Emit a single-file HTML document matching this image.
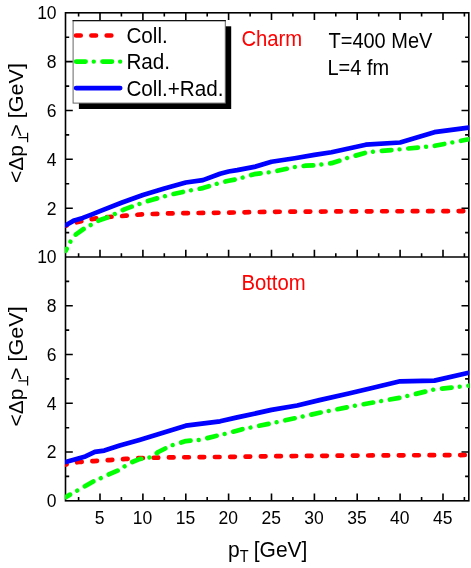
<!DOCTYPE html>
<html><head><meta charset="utf-8"><title>chart</title>
<style>html,body{margin:0;padding:0;background:#fff}svg{display:block;will-change:transform;opacity:.999}text{font-family:"Liberation Sans",sans-serif;fill:#000}</style></head><body>
<svg width="471" height="568" viewBox="0 0 471 568">
<rect width="471" height="568" fill="#fff"/>
<defs><clipPath id="cu"><rect x="65.0" y="12.8" width="404.3" height="244.2"/></clipPath><clipPath id="cl"><rect x="65.0" y="257.0" width="404.3" height="243.8"/></clipPath></defs>
<g stroke="#000" stroke-width="1.6" fill="none" stroke-linecap="butt">
<rect x="65.5" y="12.8" width="403.3" height="488.0"/>
<line x1="65.5" y1="257.0" x2="468.8" y2="257.0"/>
<path d="M78.6 12.8v3.7M78.6 257.0v-3.7M78.6 500.8v-3.7M100.0 12.8v7.3M100.0 257.0v-7.3M100.0 500.8v-7.3M121.4 12.8v3.7M121.4 257.0v-3.7M121.4 500.8v-3.7M142.9 12.8v7.3M142.9 257.0v-7.3M142.9 500.8v-7.3M164.3 12.8v3.7M164.3 257.0v-3.7M164.3 500.8v-3.7M185.8 12.8v7.3M185.8 257.0v-7.3M185.8 500.8v-7.3M207.2 12.8v3.7M207.2 257.0v-3.7M207.2 500.8v-3.7M228.6 12.8v7.3M228.6 257.0v-7.3M228.6 500.8v-7.3M250.1 12.8v3.7M250.1 257.0v-3.7M250.1 500.8v-3.7M271.5 12.8v7.3M271.5 257.0v-7.3M271.5 500.8v-7.3M292.9 12.8v3.7M292.9 257.0v-3.7M292.9 500.8v-3.7M314.4 12.8v7.3M314.4 257.0v-7.3M314.4 500.8v-7.3M335.8 12.8v3.7M335.8 257.0v-3.7M335.8 500.8v-3.7M357.2 12.8v7.3M357.2 257.0v-7.3M357.2 500.8v-7.3M378.7 12.8v3.7M378.7 257.0v-3.7M378.7 500.8v-3.7M400.1 12.8v7.3M400.1 257.0v-7.3M400.1 500.8v-7.3M421.6 12.8v3.7M421.6 257.0v-3.7M421.6 500.8v-3.7M443.0 12.8v7.3M443.0 257.0v-7.3M443.0 500.8v-7.3M464.4 12.8v3.7M464.4 257.0v-3.7M464.4 500.8v-3.7M65.5 232.6h3.7M468.8 232.6h-3.7M65.5 476.4h3.7M468.8 476.4h-3.7M65.5 208.2h7.3M468.8 208.2h-7.3M65.5 452.0h7.3M468.8 452.0h-7.3M65.5 183.7h3.7M468.8 183.7h-3.7M65.5 427.7h3.7M468.8 427.7h-3.7M65.5 159.3h7.3M468.8 159.3h-7.3M65.5 403.3h7.3M468.8 403.3h-7.3M65.5 134.9h3.7M468.8 134.9h-3.7M65.5 378.9h3.7M468.8 378.9h-3.7M65.5 110.5h7.3M468.8 110.5h-7.3M65.5 354.5h7.3M468.8 354.5h-7.3M65.5 86.1h3.7M468.8 86.1h-3.7M65.5 330.1h3.7M468.8 330.1h-3.7M65.5 61.6h7.3M468.8 61.6h-7.3M65.5 305.8h7.3M468.8 305.8h-7.3M65.5 37.2h3.7M468.8 37.2h-3.7M65.5 281.4h3.7M468.8 281.4h-3.7"/>
</g>
<g fill="none" stroke-width="4.7" stroke-linecap="round" stroke-linejoin="round">
<g clip-path="url(#cu)">
<path d="M65.7 225.7 L74.3 222.8 L82.8 220.9 L91.4 219.1 L100.0 217.9 L108.6 217.0 L125.7 215.7 L142.9 214.3 L172.9 213.3 L228.6 212.6 L271.5 211.8 L365.8 211.3 L468.7 211.1" stroke="#ff0000" stroke-dasharray="4.6 10.7" stroke-dashoffset="3.7"/>
<path d="M65.7 250.7 L70.8 240.9 L76.0 234.3 L85.4 227.7 L92.3 224.3 L100.0 219.9 L111.1 216.2 L117.2 212.6 L124.9 209.1 L134.7 205.5 L151.4 199.9 L172.5 194.2 L185.8 191.3 L202.9 188.1 L220.1 182.8 L228.6 180.8 L237.2 179.1 L254.3 174.2 L271.5 172.0 L294.7 167.1 L305.8 165.7 L314.4 165.4 L331.5 163.2 L348.7 157.6 L365.8 152.7 L374.4 151.5 L400.1 149.3 L419.8 147.4 L434.4 145.9 L468.7 139.3" stroke="#00ff00" stroke-dasharray="9.60 17.06" stroke-dashoffset="7.60"/><path d="M65.7 250.7 L70.8 240.9 L76.0 234.3 L85.4 227.7 L92.3 224.3 L100.0 219.9 L111.1 216.2 L117.2 212.6 L124.9 209.1 L134.7 205.5 L151.4 199.9 L172.5 194.2 L185.8 191.3 L202.9 188.1 L220.1 182.8 L228.6 180.8 L237.2 179.1 L254.3 174.2 L271.5 172.0 L294.7 167.1 L305.8 165.7 L314.4 165.4 L331.5 163.2 L348.7 157.6 L365.8 152.7 L374.4 151.5 L400.1 149.3 L419.8 147.4 L434.4 145.9 L468.7 139.3" stroke="#00ff00" stroke-dasharray="0.01 26.65" stroke-dashoffset="16.46" stroke-width="4.4"/>
<path d="M65.7 225.3 L74.3 220.4 L82.8 217.9 L91.4 214.6 L100.0 211.1 L121.4 202.8 L142.9 195.0 L164.3 188.4 L185.8 182.5 L202.9 180.1 L220.1 173.7 L228.6 171.5 L237.2 170.1 L254.3 166.9 L271.5 161.8 L294.7 158.3 L314.4 154.9 L331.5 152.2 L365.8 144.7 L400.1 142.5 L434.4 132.2 L468.7 127.6" stroke="#0000ff"/>
</g><g clip-path="url(#cl)">
<path d="M65.7 464.5 L78.6 462.0 L94.0 461.1 L109.4 460.1 L125.7 458.9 L138.6 458.1 L168.6 457.4 L228.6 456.9 L271.5 456.2 L365.8 455.5 L468.7 455.0" stroke="#ff0000" stroke-dasharray="4.6 10.73" stroke-dashoffset="3.7"/>
<path d="M65.7 497.1 L76.8 490.8 L84.6 486.4 L94.0 481.1 L101.3 477.9 L109.4 474.2 L118.9 470.1 L124.9 466.2 L132.2 462.0 L139.4 459.1 L151.4 457.2 L158.3 452.0 L171.2 445.5 L185.8 441.1 L200.3 439.9 L214.9 436.2 L226.6 433.5 L241.5 429.4 L271.5 423.3 L296.4 417.9 L319.5 412.8 L355.2 405.7 L400.1 397.7 L434.4 389.4 L468.7 385.7" stroke="#00ff00" stroke-dasharray="9.60 17.06" stroke-dashoffset="4.60"/><path d="M65.7 497.1 L76.8 490.8 L84.6 486.4 L94.0 481.1 L101.3 477.9 L109.4 474.2 L118.9 470.1 L124.9 466.2 L132.2 462.0 L139.4 459.1 L151.4 457.2 L158.3 452.0 L171.2 445.5 L185.8 441.1 L200.3 439.9 L214.9 436.2 L226.6 433.5 L241.5 429.4 L271.5 423.3 L296.4 417.9 L319.5 412.8 L355.2 405.7 L400.1 397.7 L434.4 389.4 L468.7 385.7" stroke="#00ff00" stroke-dasharray="0.01 26.65" stroke-dashoffset="13.46" stroke-width="4.4"/>
<path d="M65.7 462.0 L85.4 456.4 L94.9 451.8 L104.3 450.6 L119.7 445.5 L139.4 439.9 L185.8 425.7 L220.1 421.3 L237.2 417.4 L271.5 409.9 L297.2 405.5 L319.5 400.1 L348.7 393.5 L371.0 388.2 L400.1 381.3 L434.4 380.6 L468.7 372.8" stroke="#0000ff"/>
</g></g>
<rect x="78.9" y="26.3" width="152.3" height="82.7" fill="#000"/>
<rect x="73.1" y="20.6" width="152.2" height="82.5" fill="#fff" stroke="#666" stroke-width="1"/>
<path d="M72.6 20.6H225.8" stroke="#111" stroke-width="1.1" fill="none"/>
<g fill="none" stroke-width="4.7" stroke-linecap="round">
<path d="M76.1 35.5H120.2" stroke="#ff0000" stroke-dasharray="4.6 10.7"/>
<path d="M76.1 61.6H120.6" stroke="#00ff00" stroke-dasharray="9.50 16.91" stroke-dashoffset="0.00"/><path d="M76.1 61.6H120.6" stroke="#00ff00" stroke-dasharray="0.01 26.40" stroke-dashoffset="8.76" stroke-width="4.4"/>
<path d="M76.1 88.1H120.2" stroke="#0000ff"/>
</g>
<text transform="translate(126.4 42.9) scale(1 1.090)" font-size="20.7">Coll.</text>
<text transform="translate(126.4 69.3) scale(1 1.090)" font-size="20.7">Rad.</text>
<text transform="translate(126.4 95.8) scale(1 1.090)" font-size="20.7">Coll.+Rad.</text>
<text transform="translate(241.4 46.2) scale(1 1.090)" font-size="20.3" style="fill:#ff0000">Charm</text>
<text transform="translate(241.4 290.2) scale(1 1.090)" font-size="20.3" style="fill:#ff0000">Bottom</text>
<text transform="translate(328.5 48.4) scale(1 1.090)" font-size="20.0">T=400 MeV</text>
<text transform="translate(327.5 75.2) scale(1 1.090)" font-size="20.0">L=4 fm</text>
<g font-size="17.5" text-anchor="end">
<text x="56.6" y="19.1">10</text>
<text x="56.6" y="67.9">8</text>
<text x="56.6" y="116.8">6</text>
<text x="56.6" y="165.6">4</text>
<text x="56.6" y="214.5">2</text>
<text x="56.6" y="263.3">10</text>
<text x="56.6" y="312.1">8</text>
<text x="56.6" y="360.8">6</text>
<text x="56.6" y="409.6">4</text>
<text x="56.6" y="458.3">2</text>
<text x="56.6" y="507.1">0</text>
</g>
<g font-size="17.5" text-anchor="middle">
<text x="99.7" y="524.3">5</text>
<text x="142.6" y="524.3">10</text>
<text x="185.4" y="524.3">15</text>
<text x="228.3" y="524.3">20</text>
<text x="271.2" y="524.3">25</text>
<text x="314.1" y="524.3">30</text>
<text x="356.9" y="524.3">35</text>
<text x="399.8" y="524.3">40</text>
<text x="442.7" y="524.3">45</text>
</g>
<text transform="translate(228.0 557.2) scale(1 1.090)" font-size="21.0">p<tspan font-size="14.5" dy="4.8">T</tspan><tspan dy="-4.8" dx="-0.6"> [GeV]</tspan></text>
<g transform="translate(22.5 183.1) rotate(-90)"><text transform="scale(1 0.970)" font-size="21">&lt;Δp</text><path d="M40.8 5.1H50.3M45.55 5.1V-4.2" stroke="#000" stroke-width="1.2" fill="none"/><text transform="translate(46.3 0) scale(1 0.960)" font-size="21.6">&gt; [GeV]</text></g>
<g transform="translate(22.5 426.4) rotate(-90)"><text transform="scale(1 0.970)" font-size="21">&lt;Δp</text><path d="M40.8 5.1H50.3M45.55 5.1V-4.2" stroke="#000" stroke-width="1.2" fill="none"/><text transform="translate(46.3 0) scale(1 0.960)" font-size="21.6">&gt; [GeV]</text></g>
</svg></body></html>
